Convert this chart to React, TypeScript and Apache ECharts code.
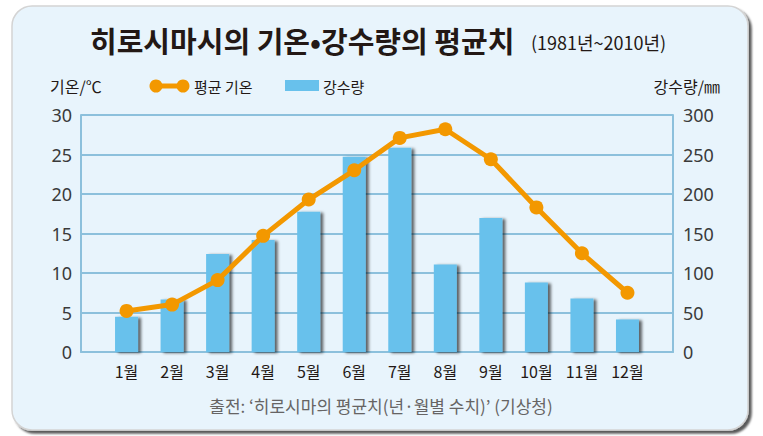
import React, { useEffect, useRef } from "react";
import * as echarts from "echarts";

const months = ["", "1월", "2월", "3월", "4월", "5월", "6월", "7월", "8월", "9월", "10월", "11월", "12월", ""];
const temperature = [null, 5.2, 6.0, 9.1, 14.7, 19.3, 23.0, 27.1, 28.2, 24.4, 18.3, 12.5, 7.5, null];
const precipitation = [null, 44.6, 66.6, 123.9, 141.7, 177.6, 247.0, 258.6, 110.8, 169.5, 87.9, 67.8, 41.2, null];
const titleText = "히로시마시의 기온•강수량의 평균치";
const periodText = "(1981년~2010년)";
const leftAxisName = "기온/℃";
const rightAxisName = "강수량/㎜";
const lineName = "평균 기온";
const barName = "강수량";
const sourceText = "출전: ‘히로시마의 평균치(년·월별 수치)’ (기상청)";

const FONT = "'Noto Sans', 'Noto Sans CJK KR', sans-serif";
const KFONT = "'Noto Sans CJK KR', 'Noto Sans', sans-serif";
const ORANGE = "#f39800";
const BLUE = "#68c1ec";
const GRID = "#8cc0dc";

export default function App() {
  const ref = useRef<HTMLDivElement>(null);
  useEffect(() => {
    if (!ref.current) return;
    const chart = echarts.init(ref.current, undefined, { renderer: "svg" });
    chart.setOption({
      animation: false,
      backgroundColor: "#ffffff",
      textStyle: { fontFamily: FONT },
      grid: { left: 81, right: 90, top: 115, height: 237 },
      xAxis: {
        type: "category",
        data: months,
        boundaryGap: false,
        axisLine: { lineStyle: { color: GRID, width: 2 } },
        axisTick: { show: false },
        axisLabel: { color: "#231815", fontSize: 16, margin: 11, fontFamily: KFONT, interval: 0 },
        splitLine: { show: false },
      },
      yAxis: [
        {
          type: "value",
          min: 0,
          max: 30,
          interval: 5,
          axisLine: { show: true, lineStyle: { color: GRID, width: 2 } },
          axisTick: { show: false },
          axisLabel: { color: "#3a3a3a", fontSize: 18, margin: 9 },
          splitLine: { lineStyle: { color: GRID, width: 2 } },
        },
        {
          type: "value",
          min: 0,
          max: 300,
          interval: 50,
          position: "right",
          axisLine: { show: true, lineStyle: { color: GRID, width: 2 } },
          axisTick: { show: false },
          axisLabel: { color: "#3a3a3a", fontSize: 18, margin: 10 },
          splitLine: { show: false },
        },
      ],
      series: [
        {
          name: barName,
          type: "bar",
          yAxisIndex: 1,
          data: precipitation,
          barWidth: 23,
          itemStyle: {
            color: BLUE,
            shadowColor: "rgba(0,0,0,0.6)",
            shadowOffsetX: 3,
            shadowOffsetY: 1,
            shadowBlur: 3,
          },
          z: 2,
        },
        {
          name: lineName,
          type: "line",
          yAxisIndex: 0,
          data: temperature,
          symbol: "circle",
          symbolSize: 14,
          lineStyle: { color: ORANGE, width: 5 },
          itemStyle: { color: ORANGE },
          z: 3,
        },
      ],
      graphic: [
        {
          type: "rect",
          z: -10,
          shape: { x: 12, y: 6, width: 736, height: 424, r: 20 },
          style: {
            fill: "#e8f4fc",
            stroke: "#d4d4d4",
            lineWidth: 1.5,
            shadowColor: "rgba(0,0,0,0.65)",
            shadowOffsetX: 3,
            shadowOffsetY: 3,
            shadowBlur: 2,
          },
        },
        {
          type: "text",
          x: 90,
          y: 40,
          style: {
            text: titleText,
            font: `bold 29px ${KFONT}`,
            fill: "#231815",
            verticalAlign: "middle",
          },
        },
        {
          type: "text",
          x: 531,
          y: 42,
          style: {
            text: periodText,
            font: `18px ${KFONT}`,
            fill: "#231815",
            verticalAlign: "middle",
          },
        },
        {
          type: "text",
          x: 50,
          y: 86,
          style: { text: leftAxisName, font: `16px ${KFONT}`, fill: "#231815", verticalAlign: "middle" },
        },
        {
          type: "text",
          x: 720,
          y: 86,
          style: { text: rightAxisName, font: `16px ${KFONT}`, fill: "#231815", verticalAlign: "middle", align: "right" },
        },
        {
          type: "line",
          shape: { x1: 156, y1: 86, x2: 183, y2: 86 },
          style: { stroke: ORANGE, lineWidth: 5 },
        },
        { type: "circle", shape: { cx: 156, cy: 86, r: 6.5 }, style: { fill: ORANGE } },
        { type: "circle", shape: { cx: 183, cy: 86, r: 6.5 }, style: { fill: ORANGE } },
        {
          type: "text",
          x: 194,
          y: 86,
          style: { text: lineName, font: `15px ${KFONT}`, fill: "#231815", verticalAlign: "middle" },
        },
        { type: "rect", shape: { x: 285, y: 80, width: 34, height: 11 }, style: { fill: BLUE } },
        {
          type: "text",
          x: 323,
          y: 86,
          style: { text: barName, font: `15px ${KFONT}`, fill: "#231815", verticalAlign: "middle" },
        },
        {
          type: "text",
          x: 381,
          y: 405,
          style: { text: sourceText, font: `17px ${KFONT}`, fill: "#666464", verticalAlign: "middle", align: "center" },
        },
      ],
    });
    return () => chart.dispose();
  }, []);
  return (
    <div
      ref={ref}
      style={{ position: "absolute", left: 0, top: 0, width: 763, height: 436 }}
    />
  );
}
